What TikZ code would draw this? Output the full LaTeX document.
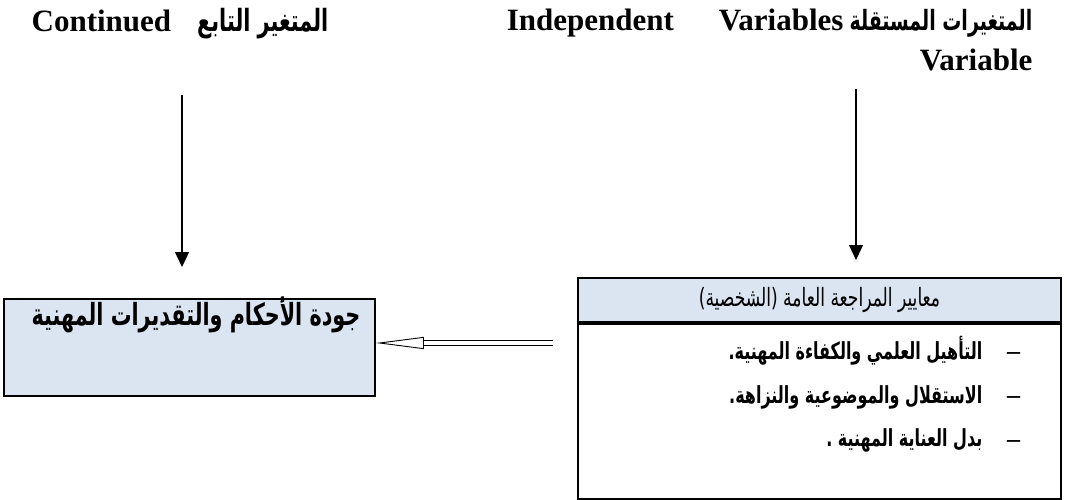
\documentclass[tikz,border=0pt]{standalone}
\usepackage{fontspec}
\setmainfont{Liberation Serif}
\newfontfamily\arabicfont[Script=Arabic,FakeStretch=0.68]{DejaVu Sans}
\TeXXeTstate=1
\usepackage{tikz}
\usetikzlibrary{arrows, arrows.meta, positioning}
\definecolor{boxblue}{HTML}{DBE5F1}

\begin{document}
\begin{tikzpicture}[x=1pt,y=-1pt,->,>={Triangle[length=15pt,width=14pt]},
                    line width=1.3pt,
                    title node/.style={font=\fontsize{31}{40}\selectfont\bfseries,inner sep=0pt},
                    ar node/.style={font=\arabicfont\fontsize{23.5}{28}\selectfont\bfseries,inner sep=0pt},
                    dash node/.style={font=\fontsize{26}{30}\selectfont\bfseries,inner sep=0pt}]
  \tikzstyle{box}=[draw,line width=1.8pt,fill=boxblue]
  \useasboundingbox (0,0) rectangle (1067,500);

  % titles
  \node[title node,anchor=base] (deptitle) at (180,32)
        {Continued\hspace{26pt}{\arabicfont\fontsize{30.6}{40}\selectfont\beginR المتغير التابع\endR}};
  \node[title node,align=right,anchor=base east] (indtitle) at (1033,71)
        {Independent\hspace{45pt}Variables\hspace{6pt}{\arabicfont\fontsize{27.9}{40}\selectfont\beginR المتغيرات المستقلة\endR}\\Variable};

  % boxes
  \node[box,minimum width=371pt,minimum height=97pt] (dep) at (189.5,347.5) {};
  \node[ar node,font=\arabicfont\fontsize{30.5}{36}\selectfont\bfseries,anchor=base] (deptext) at (196,325)
        {\beginR جودة الأحكام والتقديرات المهنية\endR};

  \node[box,minimum width=483pt,minimum height=44pt] (ind) at (819.5,300)
        {\arabicfont\fontsize{25.2}{30}\selectfont\beginR معايير المراجعة العامة (الشخصية)\endR};
  \node[box,fill=white,minimum width=483pt,minimum height=175pt] (indbody) [below=0pt of ind] {};

  \node[ar node,anchor=base east] (q1) at (983,359) {\beginR التأهيل العلمي والكفاءة المهنية.\endR};
  \node[ar node,anchor=base east] (q2) at (983,403) {\beginR الاستقلال والموضوعية والنزاهة.\endR};
  \node[ar node,anchor=base east] (q3) at (983,446) {\beginR بدل العناية المهنية .\endR};
  \node[dash node] (d1) at (1013.5,356) {\textendash};
  \node[dash node] (d2) at (1013.5,400) {\textendash};
  \node[dash node] (d3) at (1013.5,444) {\textendash};

  % arrows
  \coordinate (a1) at (182,95);
  \coordinate (a2) at (182,267);
  \coordinate (b1) at (856,89);
  \coordinate (b2) at (856,260);
  \coordinate (c1) at (553,343);

  \draw (a1) -- (a2);
  \draw (b1) -- (b2);
  \draw[double,double distance=3.5pt,line width=0.9pt,
        -{Triangle[open,length=48pt,width=12pt]}] (c1) -- (dep.east |- c1);

\end{tikzpicture}
\end{document}
